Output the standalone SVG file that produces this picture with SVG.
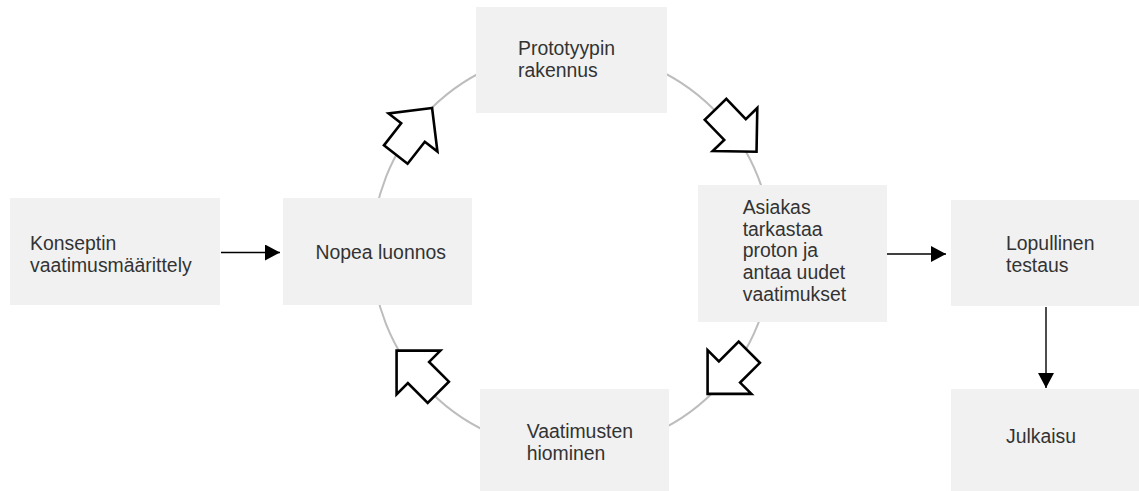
<svg xmlns="http://www.w3.org/2000/svg" width="1139" height="491" viewBox="0 0 1139 491">
  <defs>
    <style>
      .box { fill: #f1f1f1; }
      .lbl { font-family: "Liberation Sans", Arial, sans-serif; font-size: 19.4px; fill: #333333; }
      .cycle { fill: none; stroke: #bdbdbd; stroke-width: 2; }
      .conn { fill: none; stroke: #000000; stroke-width: 1.4; marker-end: url(#ah); }
      .block { fill: #ffffff; stroke: #000000; stroke-width: 2.6; stroke-linejoin: miter; }
    </style>
    <marker id="ah" markerUnits="userSpaceOnUse" markerWidth="16" markerHeight="16" refX="15" refY="8" orient="auto">
      <path d="M0,0 L15,8 L0,16 z" fill="#000000"/>
    </marker>
    <polygon id="blockArrow" points="31,0 0,-31 0,-15 -28,-15 -28,15 0,15 0,31"/>
  </defs>
  <rect width="1139" height="491" fill="#ffffff"/>

  <circle class="cycle" cx="572" cy="250.5" r="200"/>

  <g id="connectors">
    <path class="conn" d="M221,252.5 L280,252.5"/>
    <path class="conn" d="M887,254 L946,254"/>
    <path class="conn" d="M1046,307 L1046,388"/>
  </g>

  <g id="node-konseptin">
    <rect class="box" x="10" y="198" width="210" height="107"/>
    <text class="lbl" x="30" y="250">Konseptin</text>
    <text class="lbl" x="30" y="271.7">vaatimusmäärittely</text>
  </g>

  <g id="node-nopea">
    <rect class="box" x="283" y="198" width="189" height="107"/>
    <text class="lbl" x="315.5" y="259">Nopea luonnos</text>
  </g>

  <g id="node-prototyypin">
    <rect class="box" x="476" y="7" width="191" height="106"/>
    <text class="lbl" x="518" y="55">Prototyypin</text>
    <text class="lbl" x="518" y="77">rakennus</text>
  </g>

  <g id="node-asiakas">
    <rect class="box" x="698" y="185" width="189" height="137"/>
    <text class="lbl" x="742.7" y="214">Asiakas</text>
    <text class="lbl" x="742.7" y="235.7">tarkastaa</text>
    <text class="lbl" x="742.7" y="257.3">proton ja</text>
    <text class="lbl" x="742.7" y="279">antaa uudet</text>
    <text class="lbl" x="742.7" y="300.7">vaatimukset</text>
  </g>

  <g id="node-lopullinen">
    <rect class="box" x="951" y="200" width="195" height="106"/>
    <text class="lbl" x="1006" y="250">Lopullinen</text>
    <text class="lbl" x="1006" y="271.5">testaus</text>
  </g>

  <g id="node-julkaisu">
    <rect class="box" x="951" y="389" width="195" height="110"/>
    <text class="lbl" x="1006" y="443.3">Julkaisu</text>
  </g>

  <g id="node-vaatimusten">
    <rect class="box" x="480" y="389" width="189" height="110"/>
    <text class="lbl" x="526.7" y="438.3">Vaatimusten</text>
    <text class="lbl" x="526.7" y="460">hiominen</text>
  </g>

  <g id="cycle-arrows">
    <use href="#blockArrow" class="block" transform="translate(413,132.5) rotate(-52)"/>
    <use href="#blockArrow" class="block" transform="translate(735,129.5) rotate(46)"/>
    <use href="#blockArrow" class="block" transform="translate(729.5,372) rotate(135)"/>
    <use href="#blockArrow" class="block" transform="translate(418.5,372.5) rotate(-135)"/>
  </g>
</svg>
